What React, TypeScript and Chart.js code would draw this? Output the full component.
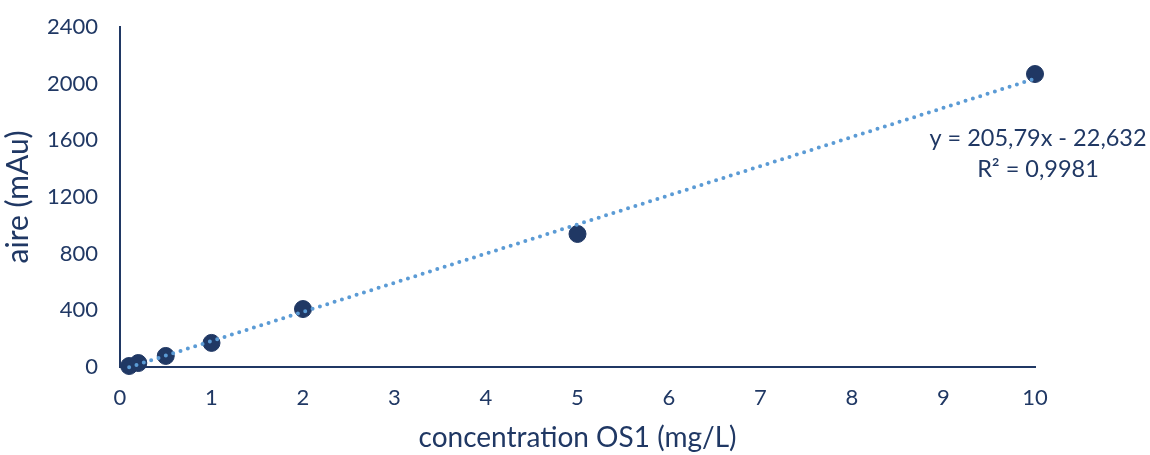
import React, { useEffect, useRef } from "react";
import { Chart, registerables } from "chart.js";

Chart.register(...registerables);

const concentrations = [0.1, 0.2, 0.5, 1, 2, 5, 10];
const aires = [7, 28, 78, 170, 409, 939, 2068];
const trendSlope = 205.79;
const trendIntercept = -22.632;
const equationLines = ["y = 205,79x - 22,632", "R² = 0,9981"];
const xTitle = "concentration OS1 (mg/L)";
const yTitle = "aire (mAu)";

const NAVY = "#203864";
const TREND = "#5B9BD5";
const FONT = "Lato, 'Open Sans', sans-serif";

export default function App() {
  const ref = useRef<HTMLCanvasElement | null>(null);

  useEffect(() => {
    if (!ref.current) return;
    const points = concentrations.map((x, i) => ({ x, y: aires[i] }));
    const xs = [concentrations[0], concentrations[concentrations.length - 1]];
    const trend = xs.map((x) => ({ x, y: trendSlope * x + trendIntercept }));

    const equationPlugin = {
      id: "equation",
      afterDatasetsDraw(chart: any) {
        const ctx = chart.ctx;
        ctx.save();
        ctx.fillStyle = NAVY;
        ctx.font = `23.5px ${FONT}`;
        ctx.textAlign = "center";
        ctx.textBaseline = "middle";
        ctx.fillText(equationLines[0], 1038, 138);
        ctx.fillText(equationLines[1], 1038, 169);
        ctx.restore();
      },
    };

    const chart = new Chart(ref.current, {
      type: "scatter",
      data: {
        datasets: [
          {
            type: "line",
            data: trend,
            borderColor: TREND,
            borderWidth: 4,
            borderDash: [0, 7.7],
            borderCapStyle: "round",
            pointRadius: 0,
            fill: false,
            clip: false,
            order: 0,
          } as any,
          {
            data: points,
            backgroundColor: NAVY,
            borderColor: NAVY,
            pointRadius: 8.5,
            pointHoverRadius: 8.5,
            clip: false,
            order: 1,
          } as any,
        ],
      },
      options: {
        animation: false,
        responsive: false,
        maintainAspectRatio: false,
        layout: { padding: { top: 27, right: 115, left: 0, bottom: 0 } },
        plugins: {
          legend: { display: false },
          tooltip: { enabled: false },
        },
        scales: {
          x: {
            type: "linear",
            min: 0,
            max: 10,
            grid: { display: false, drawTicks: false },
            border: { display: true, color: NAVY, width: 2 },
            ticks: {
              stepSize: 1,
              color: NAVY,
              padding: 18,
              font: { family: FONT, size: 22 },
              callback: (v: any) => String(v),
            },
            title: {
              display: true,
              text: xTitle,
              color: NAVY,
              font: { family: FONT, size: 28 },
              padding: { top: 4, bottom: 0 },
            },
            afterFit: (s: any) => {
              s.height = 88;
              s.paddingLeft = 0;
              s.paddingRight = 0;
            },
          },
          y: {
            type: "linear",
            min: 0,
            max: 2400,
            grid: { display: false, drawTicks: false },
            border: { display: true, color: NAVY, width: 2 },
            ticks: {
              stepSize: 400,
              color: NAVY,
              padding: 22,
              font: { family: FONT, size: 22 },
              callback: (v: any) => String(v),
            },
            title: {
              display: true,
              text: yTitle,
              color: NAVY,
              font: { family: FONT, size: 30 },
              padding: { top: 0, bottom: 4 },
            },
            afterFit: (s: any) => {
              s.width = 120;
              s.paddingTop = 0;
              s.paddingBottom = 0;
            },
          },
        },
      },
      plugins: [equationPlugin],
    });
    return () => chart.destroy();
  }, []);

  return (
    <div style={{ position: "absolute", left: 0, top: 0, width: 1150, height: 455, background: "#fff" }}>
      <canvas ref={ref} width={1150} height={455} style={{ width: 1150, height: 455 }} />
    </div>
  );
}
